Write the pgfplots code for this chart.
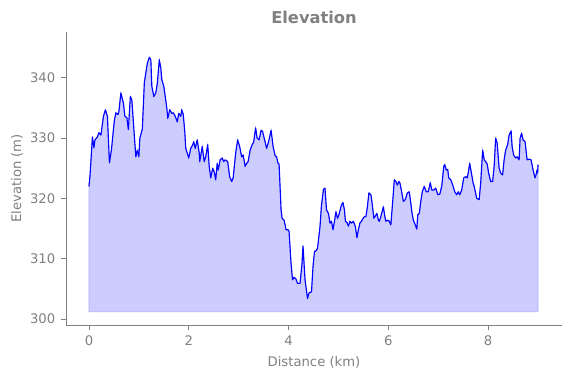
\documentclass[border=0pt]{standalone}
\usepackage{fontspec}
\setmainfont{DejaVu Sans}
\usepackage{pgfplots}
\pgfplotsset{compat=1.18}
\usepackage{pgfplotstable}
\definecolor{txtgray}{HTML}{808080}
\definecolor{fillblue}{HTML}{CCCCFF}
\definecolor{edgeblue}{HTML}{B0B0FF}

\pgfplotstableread{
x y
0.00 322.0
0.02 323.6
0.07 330.2
0.10 328.4
0.12 329.7
0.17 330.2
0.20 330.9
0.24 330.5
0.29 333.6
0.33 334.7
0.37 333.6
0.41 325.9
0.45 328.0
0.51 333.0
0.54 334.2
0.58 333.9
0.60 334.4
0.64 337.5
0.69 335.8
0.72 333.6
0.76 333.4
0.79 331.4
0.83 336.9
0.86 336.3
0.91 330.3
0.94 326.9
0.97 328.0
1.00 326.9
1.02 330.0
1.07 331.5
1.11 339.2
1.17 342.4
1.21 343.4
1.24 343.0
1.26 338.6
1.30 336.9
1.34 337.5
1.37 339.1
1.41 343.0
1.44 341.6
1.46 339.7
1.50 338.6
1.56 335.0
1.58 333.3
1.62 334.7
1.66 334.1
1.69 334.2
1.73 333.6
1.77 332.7
1.80 334.1
1.84 333.6
1.86 334.7
1.89 333.9
1.92 331.1
1.94 328.3
2.00 326.7
2.04 328.3
2.08 328.9
2.10 329.4
2.13 328.3
2.17 329.7
2.21 327.5
2.22 326.1
2.27 328.6
2.31 326.1
2.34 326.9
2.38 328.9
2.41 325.3
2.44 323.4
2.48 325.0
2.51 324.4
2.54 323.1
2.57 325.8
2.59 324.7
2.63 326.4
2.67 326.7
2.70 326.1
2.73 326.4
2.78 326.1
2.82 323.6
2.86 322.8
2.89 323.4
2.94 327.5
2.98 329.7
3.02 328.6
3.06 326.9
3.09 327.2
3.13 325.3
3.16 325.8
3.19 326.1
3.23 328.0
3.27 328.9
3.30 329.3
3.34 331.7
3.37 330.0
3.41 329.7
3.45 331.3
3.48 331.1
3.52 329.7
3.56 328.3
3.60 329.4
3.65 331.3
3.69 328.6
3.73 327.1
3.76 326.9
3.79 325.8
3.81 325.7
3.85 318.1
3.87 316.7
3.91 316.4
3.95 314.8
3.99 314.8
4.01 314.5
4.05 309.2
4.08 306.5
4.11 306.9
4.15 306.6
4.18 305.9
4.23 305.9
4.27 309.2
4.29 312.1
4.33 306.5
4.38 303.4
4.41 304.3
4.43 304.4
4.46 304.5
4.49 308.7
4.52 311.2
4.55 311.3
4.58 311.7
4.63 315.3
4.66 318.9
4.70 321.5
4.73 321.7
4.76 318.1
4.80 317.5
4.83 315.9
4.86 316.2
4.89 314.8
4.92 316.2
4.95 317.8
4.98 316.7
5.01 317.3
5.06 318.9
5.09 319.3
5.12 318.1
5.14 316.2
5.17 316.0
5.20 315.4
5.23 316.2
5.26 315.9
5.30 316.2
5.34 315.3
5.37 313.5
5.40 314.8
5.43 315.9
5.46 316.2
5.51 316.9
5.55 317.0
5.58 318.6
5.61 320.9
5.65 320.6
5.67 319.5
5.71 316.7
5.74 317.1
5.77 317.5
5.80 316.4
5.82 316.2
5.86 317.3
5.90 318.6
5.93 317.0
5.95 316.2
5.99 316.4
6.02 316.2
6.05 315.6
6.09 319.8
6.12 323.1
6.15 322.8
6.18 322.2
6.21 322.8
6.23 322.6
6.26 321.4
6.30 319.5
6.34 319.8
6.38 320.9
6.42 321.1
6.45 319.2
6.47 317.8
6.50 316.4
6.54 315.6
6.57 314.9
6.59 317.3
6.62 317.5
6.65 319.5
6.68 321.1
6.72 322.0
6.76 321.1
6.80 321.1
6.84 322.6
6.87 321.4
6.91 321.4
6.95 321.7
6.99 320.6
7.03 320.7
7.07 322.0
7.11 325.3
7.13 325.6
7.16 324.7
7.19 324.8
7.21 323.4
7.25 323.1
7.29 322.2
7.33 321.1
7.37 320.6
7.40 321.1
7.43 320.6
7.47 321.4
7.51 323.4
7.55 323.6
7.58 323.4
7.60 324.2
7.63 325.8
7.66 324.4
7.70 322.5
7.72 322.0
7.77 320.0
7.82 319.8
7.85 322.5
7.89 328.0
7.92 326.4
7.95 326.1
7.98 325.7
8.01 324.2
8.05 322.8
8.09 322.8
8.12 325.3
8.15 330.0
8.18 329.2
8.22 325.0
8.25 324.2
8.29 323.9
8.32 326.4
8.35 328.0
8.39 328.9
8.42 330.5
8.46 331.2
8.48 328.6
8.51 327.2
8.55 326.7
8.58 326.9
8.62 326.4
8.64 330.0
8.67 330.8
8.70 329.7
8.74 329.4
8.78 326.4
8.82 326.5
8.86 326.4
8.90 324.7
8.94 323.4
8.96 323.9
8.98 324.7
8.99 324.2
9.00 325.6
}\elev

\pgfplotstableread{
x y
9.00 301.2
0.00 301.2
0.00 322.0
}\base

\pgfplotstablevertcat{\elevfill}{\elev}
\pgfplotstablevertcat{\elevfill}{\base}

\begin{document}
\begin{tikzpicture}
\path[use as bounding box] (-49.5pt,-39.75pt) rectangle (378.75pt,243.75pt);
\begin{axis}[
  at={(0pt,0pt)}, anchor=south west,
  scale only axis,
  width=372pt, height=219.75pt,
  xmin=-0.46, xmax=9.48,
  ymin=299.0, ymax=347.6,
  axis x line*=bottom, axis y line*=left,
  axis line style={txtgray, line width=0.6pt},
  xtick={0,2,4,6,8},
  ytick={300,310,320,330,340},
  tick align=outside,
  major tick length=3.5pt,
  tick style={txtgray, line width=0.6pt},
  every tick label/.append style={font=\fontsize{9.9}{12}\selectfont, text=txtgray},
  /pgf/number format/assume math mode=true,
  xticklabel style={yshift=-1pt},
  yticklabel style={xshift=-1pt},
  xlabel={Distance (km)},
  ylabel={Elevation (m)},
  xlabel style={yshift=-1.5pt},
  ylabel style={yshift=-1.5pt},
  label style={font=\fontsize{9.9}{12}\selectfont, text=txtgray},
  title={Elevation},
  title style={font=\fontsize{12.2}{14}\selectfont\bfseries, text=txtgray, yshift=-3pt},
]
\addplot[fill=fillblue, draw=edgeblue, line width=0.6pt] table[x=x,y=y] {\elevfill};
\addplot[blue, line width=0.85pt, line join=round] table[x=x,y=y] {\elev};
\end{axis}
\end{tikzpicture}
\end{document}
